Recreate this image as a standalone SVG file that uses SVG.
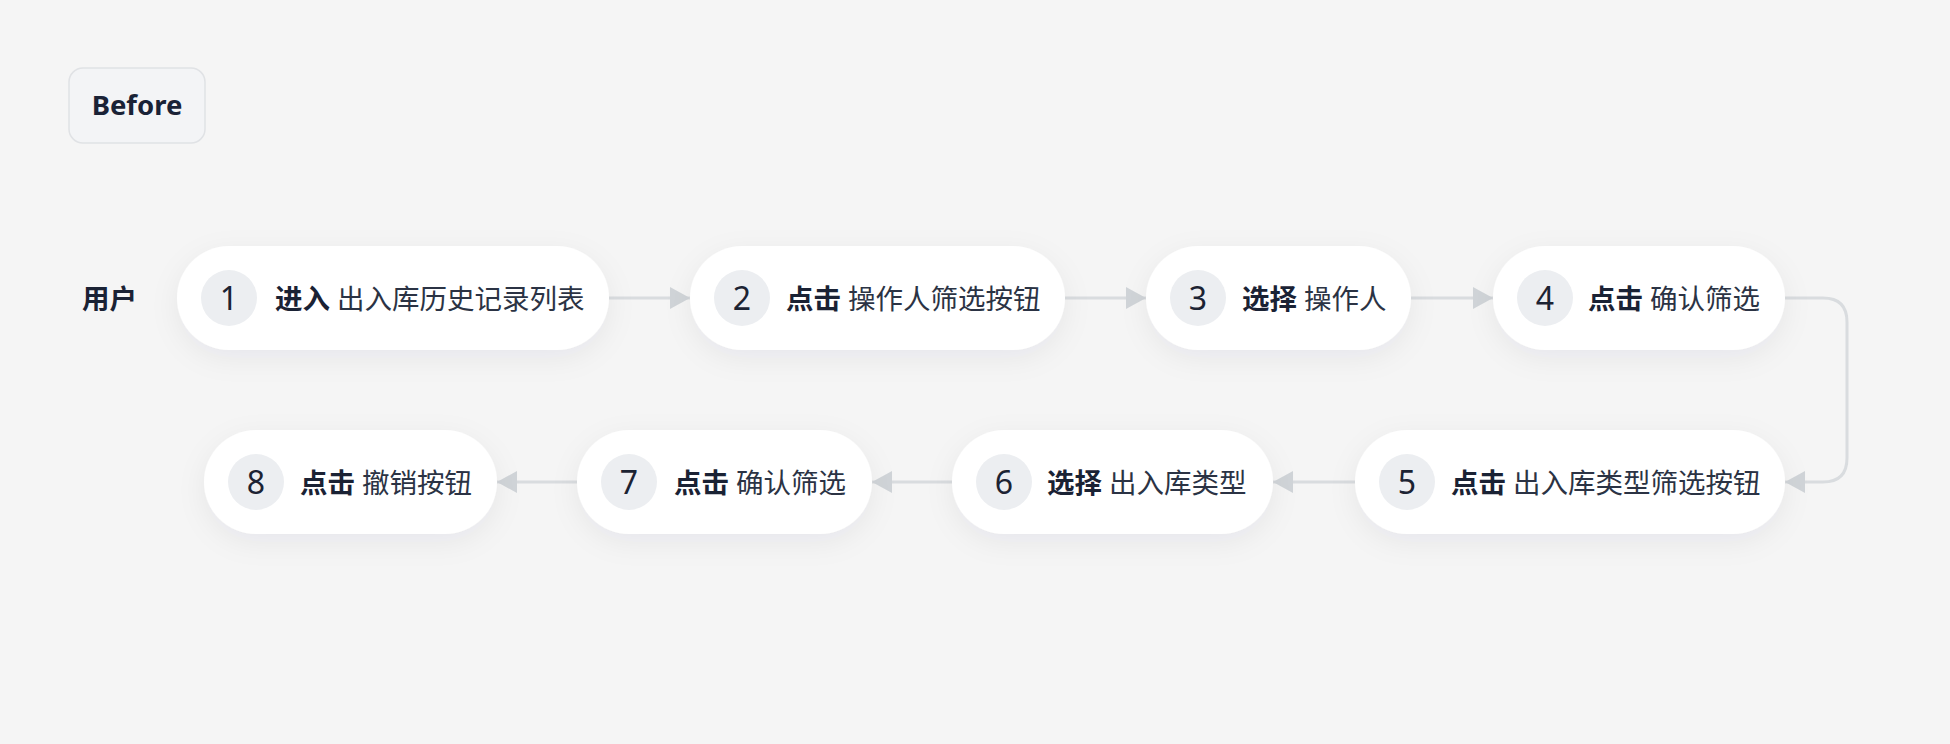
<svg xmlns="http://www.w3.org/2000/svg" width="1950" height="744" viewBox="0 0 1950 744">
  <style>
    .bg{fill:#f5f5f5}
    .node{fill:#ffffff;filter:url(#sh)}
    .badge{fill:#eceef1}
    .num{font-family:"Noto Sans","Noto Sans CJK SC",sans-serif;font-size:32px;font-weight:400;fill:#1c2333;text-anchor:middle}
    .t{font-family:"Noto Sans","Noto Sans CJK SC",sans-serif;font-size:27.5px}
    .b{font-weight:700;fill:#1a2234}
    .n{font-weight:400;fill:#2b3344}
    .conn{fill:none;stroke:#d9dcdf;stroke-width:3}
  </style>
  <defs>
    <filter id="sh" x="-20%" y="-40%" width="140%" height="190%">
      <feDropShadow dx="0" dy="8" stdDeviation="14" flood-color="#1a2234" flood-opacity="0.06"/>
    </filter>
    <marker id="ah" markerUnits="userSpaceOnUse" markerWidth="20" markerHeight="22" refX="20" refY="11" orient="auto">
      <path d="M0,0 L20,11 L0,22 z" fill="#d0d4d8"/>
    </marker>
  </defs>
  <rect class="bg" x="0" y="0" width="1950" height="744"/>

  <g id="before">
    <rect x="69" y="68" width="136" height="75" rx="14" fill="#f3f4f6" stroke="#e0e2e5" stroke-width="1.5"/>
    <text x="137" y="115" text-anchor="middle" font-family="'Noto Sans',sans-serif" font-size="27.5" font-weight="700" fill="#1a2236">Before</text>
  </g>

  <g id="lane-user">
    <text class="t b" x="82" y="308.5">用户</text>
  </g>

  <g id="connectors">
    <path class="conn" d="M609,298 H690" marker-end="url(#ah)"/>
    <path class="conn" d="M1065,298 H1146" marker-end="url(#ah)"/>
    <path class="conn" d="M1411,298 H1493" marker-end="url(#ah)"/>
    <path class="conn" d="M1785,298 H1823 Q1847,298 1847,322 V458 Q1847,482 1823,482 H1785" marker-end="url(#ah)"/>
    <path class="conn" d="M1355,482 H1273" marker-end="url(#ah)"/>
    <path class="conn" d="M952,482 H872" marker-end="url(#ah)"/>
    <path class="conn" d="M577,482 H497" marker-end="url(#ah)"/>
  </g>

  <g id="step1">
    <rect class="node" x="177" y="246" width="432" height="104" rx="52"/>
    <circle class="badge" cx="229" cy="298" r="28"/>
    <text class="num" x="229" y="309.5">1</text>
    <text class="t" y="308.5"><tspan class="b" x="275">进入</tspan><tspan class="n" x="337">出入库历史记录列表</tspan></text>
  </g>
  <g id="step2">
    <rect class="node" x="690" y="246" width="375" height="104" rx="52"/>
    <circle class="badge" cx="742" cy="298" r="28"/>
    <text class="num" x="742" y="309.5">2</text>
    <text class="t" y="308.5"><tspan class="b" x="786">点击</tspan><tspan class="n" x="848">操作人筛选按钮</tspan></text>
  </g>
  <g id="step3">
    <rect class="node" x="1146" y="246" width="265" height="104" rx="52"/>
    <circle class="badge" cx="1198" cy="298" r="28"/>
    <text class="num" x="1198" y="309.5">3</text>
    <text class="t" y="308.5"><tspan class="b" x="1242">选择</tspan><tspan class="n" x="1304">操作人</tspan></text>
  </g>
  <g id="step4">
    <rect class="node" x="1493" y="246" width="292" height="104" rx="52"/>
    <circle class="badge" cx="1545" cy="298" r="28"/>
    <text class="num" x="1545" y="309.5">4</text>
    <text class="t" y="308.5"><tspan class="b" x="1588">点击</tspan><tspan class="n" x="1650">确认筛选</tspan></text>
  </g>
  <g id="step5">
    <rect class="node" x="1355" y="430" width="430" height="104" rx="52"/>
    <circle class="badge" cx="1407" cy="482" r="28"/>
    <text class="num" x="1407" y="493.5">5</text>
    <text class="t" y="492.5"><tspan class="b" x="1451">点击</tspan><tspan class="n" x="1513">出入库类型筛选按钮</tspan></text>
  </g>
  <g id="step6">
    <rect class="node" x="952" y="430" width="321" height="104" rx="52"/>
    <circle class="badge" cx="1004" cy="482" r="28"/>
    <text class="num" x="1004" y="493.5">6</text>
    <text class="t" y="492.5"><tspan class="b" x="1047">选择</tspan><tspan class="n" x="1109">出入库类型</tspan></text>
  </g>
  <g id="step7">
    <rect class="node" x="577" y="430" width="295" height="104" rx="52"/>
    <circle class="badge" cx="629" cy="482" r="28"/>
    <text class="num" x="629" y="493.5">7</text>
    <text class="t" y="492.5"><tspan class="b" x="674">点击</tspan><tspan class="n" x="736">确认筛选</tspan></text>
  </g>
  <g id="step8">
    <rect class="node" x="204" y="430" width="293" height="104" rx="52"/>
    <circle class="badge" cx="256" cy="482" r="28"/>
    <text class="num" x="256" y="493.5">8</text>
    <text class="t" y="492.5"><tspan class="b" x="300">点击</tspan><tspan class="n" x="362">撤销按钮</tspan></text>
  </g>
</svg>
